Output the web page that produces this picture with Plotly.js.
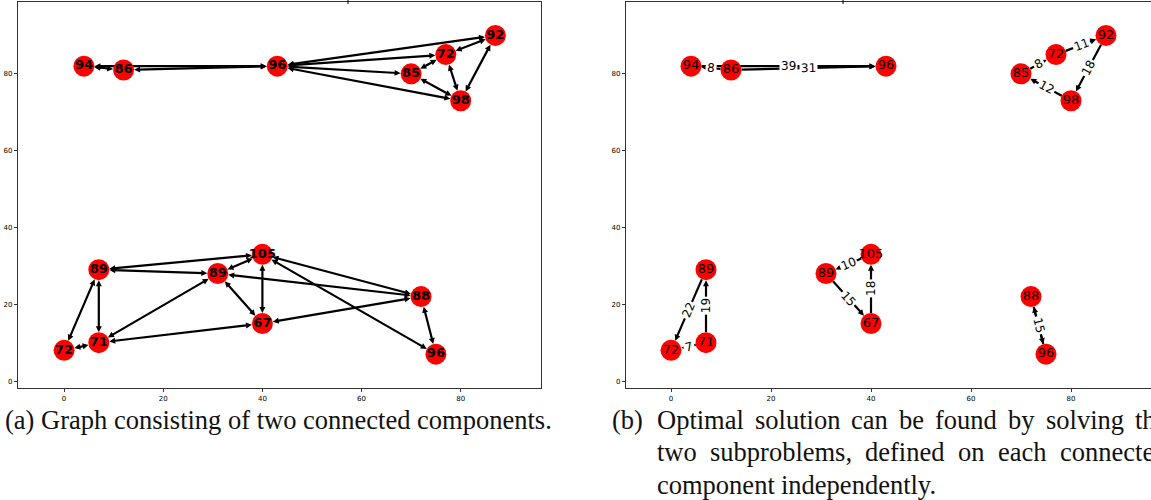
<!DOCTYPE html>
<html>
<head>
<meta charset="utf-8">
<script src="https://cdn.plot.ly/plotly-3.0.1.min.js"></script>
<style>
  html, body { margin: 0; padding: 0; background: #fff; }
  #chart { width: 1151px; height: 500px; }
</style>
</head>
<body>
<div id="chart"></div>
<script>
// ---- graph data ----------------------------------------------------------
// node ids, their printed labels and their positions
const nodeIds    = ['u94', 'u86', 'u96', 'u85', 'u72', 'u92', 'u98',
                    'l89a', 'l72', 'l71', 'l89b', 'l105', 'l67', 'l88', 'l96'];
const nodeLabels = ['94', '86', '96', '85', '72', '92', '98',
                    '89', '72', '71', '89', '105', '67', '88', '96'];
const nodeX = [4, 12, 43, 70, 77, 87, 80, 7, 0, 7, 31, 40, 40, 72, 75];
const nodeY = [82, 81, 82, 80, 85, 90, 73, 29, 8, 10, 28, 33, 15, 22, 7];

// full graph: every connection runs both ways
const fullFrom = ['u94', 'u94', 'u86', 'u96', 'u96', 'u96', 'u96', 'u72', 'u72', 'u72', 'u92', 'u85',
                  'l89a', 'l89a', 'l89a', 'l89a', 'l72', 'l71', 'l71', 'l89b', 'l89b', 'l89b',
                  'l105', 'l105', 'l105', 'l88', 'l88'];
const fullTo   = ['u86', 'u96', 'u96', 'u92', 'u72', 'u85', 'u98', 'u92', 'u85', 'u98', 'u98', 'u98',
                  'l105', 'l89b', 'l71', 'l72', 'l71', 'l89b', 'l67', 'l105', 'l67', 'l88',
                  'l67', 'l88', 'l96', 'l67', 'l96'];

// optimal solution: directed edges with their weights
const solFrom   = ['u86', 'u94', 'u86', 'u72', 'u92', 'u98', 'u85',
                   'l89a', 'l71', 'l71', 'l105', 'l89b', 'l67', 'l88', 'l96'];
const solTo     = ['u94', 'u96', 'u96', 'u92', 'u98', 'u85', 'u72',
                   'l72', 'l89a', 'l72', 'l89b', 'l67', 'l105', 'l96', 'l88'];
const solWeight = [8, 39, 31, 11, 18, 12, 8, 22, 19, 7, 10, 15, 18, 15, 15];

const xTicks = [0, 20, 40, 60, 80];
const yTicks = [0, 20, 40, 60, 80];

const captionA = '(a) Graph consisting of two connected components.';
const captionBTag = '(b)';
const captionBLines = ['Optimal solution can be found by solving the',
                       'two subproblems, defined on each connected',
                       'component independently.'];

// ---- layout constants ----------------------------------------------------
const W = 1151, H = 500;
const boxL = { x0: 18, x1: 541 };
const boxR = { x0: 626, x1: 1151 };
const boxY = { top: 2, bottom: 388 };
const xRangeL = [-9.3, 96.2];
const xRangeR = [-9, 96];
const yRange = [-1.8, 98.7];

const NODE_R = 10.5;     // node radius in px
const HEAD = 6;          // arrowhead size in px

const idx = id => nodeIds.indexOf(id);

function scales(box, xr) {
  return {
    sx: (box.x1 - box.x0) / (xr[1] - xr[0]),
    sy: (boxY.bottom - boxY.top) / (yRange[1] - yRange[0])
  };
}

// line segments and arrowheads, trimmed to the node circles
function buildEdges(from, to, twoWay, sc) {
  const lx = [], ly = [], hx = [], hy = [], ha = [];
  for (let i = 0; i < from.length; i++) {
    const u = idx(from[i]), v = idx(to[i]);
    const xu = nodeX[u], yu = nodeY[u], xv = nodeX[v], yv = nodeY[v];
    const px = (xv - xu) * sc.sx, py = -(yv - yu) * sc.sy;
    const len = Math.hypot(px, py);
    const ux = px / len, uy = py / len;
    const step = (x, y, d) => [x + d * ux / sc.sx, y - d * uy / sc.sy];
    const s = step(xu, yu, twoWay ? NODE_R + HEAD * 0.6 : NODE_R);
    const e = step(xv, yv, -(NODE_R + HEAD * 0.6));
    lx.push(s[0], e[0], null); ly.push(s[1], e[1], null);
    const tip = step(xv, yv, -NODE_R);
    hx.push(tip[0]); hy.push(tip[1]);
    ha.push(Math.atan2(ux, -uy) * 180 / Math.PI);
    if (twoWay) {
      const tip2 = step(xu, yu, NODE_R);
      hx.push(tip2[0]); hy.push(tip2[1]);
      ha.push(Math.atan2(-ux, uy) * 180 / Math.PI);
    }
  }
  return { lx, ly, hx, hy, ha };
}

function edgeTraces(g, xa, ya) {
  return [
    { type: 'scatter', mode: 'lines', x: g.lx, y: g.ly, xaxis: xa, yaxis: ya,
      line: { color: '#000', width: 2.2 }, hoverinfo: 'skip', cliponaxis: false },
    { type: 'scatter', mode: 'markers', x: g.hx, y: g.hy, xaxis: xa, yaxis: ya,
      marker: { symbol: 'arrow-up', size: HEAD, color: '#000', angle: g.ha,
                line: { width: 0 } },
      hoverinfo: 'skip', cliponaxis: false }
  ];
}

function nodeTrace(xa, ya, bold) {
  return {
    type: 'scatter', mode: 'markers+text', x: nodeX, y: nodeY, xaxis: xa, yaxis: ya,
    text: nodeLabels, textposition: 'middle center',
    textfont: { family: 'DejaVu Sans', size: 13, color: '#000', weight: bold ? 'bold' : 'normal' },
    marker: { size: 2 * NODE_R, color: '#ff0000', line: { width: 0 } },
    hoverinfo: 'skip', cliponaxis: false
  };
}

const scL = scales(boxL, xRangeL);
const scR = scales(boxR, xRangeR);

const gFull = buildEdges(fullFrom, fullTo, true, scL);
const gSol = buildEdges(solFrom, solTo, false, scR);

const traces = [
  ...edgeTraces(gFull, 'x', 'y'),
  nodeTrace('x', 'y', true),
  ...edgeTraces(gSol, 'x2', 'y2'),
  nodeTrace('x2', 'y2', false)
];

// weight labels sitting on the solution edges
const annotations = [];
solWeight.forEach((w, i) => {
  const u = idx(solFrom[i]), v = idx(solTo[i]);
  const px = (nodeX[v] - nodeX[u]) * scR.sx, py = -(nodeY[v] - nodeY[u]) * scR.sy;
  let a = Math.atan2(py, px) * 180 / Math.PI;
  if (a > 90) a -= 180;
  if (a < -90) a += 180;
  annotations.push({
    xref: 'x2', yref: 'y2',
    x: (nodeX[u] + nodeX[v]) / 2, y: (nodeY[u] + nodeY[v]) / 2,
    text: String(w), showarrow: false, textangle: a,
    bgcolor: '#fff', borderpad: 1,
    font: { family: 'DejaVu Sans', size: 12, color: '#000' }
  });
});

// captions
const capFont = { family: 'Liberation Serif', size: 26.5, color: '#111' };
const capY = [420, 452, 485];
function paperX(px) { return px / W; }
function paperY(py) { return 1 - py / H; }
function capNote(text, px, py) {
  return { xref: 'paper', yref: 'paper', x: paperX(px), y: paperY(py),
           xanchor: 'left', yanchor: 'middle', showarrow: false, text: text,
           font: capFont, borderpad: 0 };
}
annotations.push(capNote(captionA, 4, capY[0]));
annotations.push(capNote(captionBTag, 611, capY[0]));

// justified lines of caption (b)
const cv = document.createElement('canvas').getContext('2d');
cv.font = capFont.size + 'px "' + capFont.family + '"';
const lineStart = 656, lineEnd = 1166;
captionBLines.forEach((line, li) => {
  const words = line.split(' ');
  const widths = words.map(wd => cv.measureText(wd).width);
  const total = widths.reduce((p, c) => p + c, 0);
  const last = li === captionBLines.length - 1;
  const gap = last ? cv.measureText(' ').width : (lineEnd - lineStart - total) / (words.length - 1);
  let x = lineStart;
  words.forEach((wd, k) => {
    annotations.push(capNote(wd, x, capY[li]));
    x += widths[k] + gap;
  });
});

const axisCommon = {
  showgrid: false, zeroline: false, showline: true, mirror: true,
  linecolor: '#333', linewidth: 1.2,
  ticks: 'outside', ticklen: 3, tickwidth: 1, tickcolor: '#333',
  tickfont: { family: 'DejaVu Sans', size: 7, color: '#000' },
  fixedrange: true
};
const yDomain = [1 - boxY.bottom / H, 1 - boxY.top / H];

const layout = {
  width: W, height: H,
  margin: { l: 0, r: 0, t: 0, b: 0 },
  paper_bgcolor: '#fff', plot_bgcolor: '#fff',
  showlegend: false, hovermode: false,
  xaxis: Object.assign({}, axisCommon, { domain: [boxL.x0 / W, boxL.x1 / W], range: xRangeL, anchor: 'y', tickvals: xTicks }),
  yaxis: Object.assign({}, axisCommon, { domain: yDomain, range: yRange, anchor: 'x', tickvals: yTicks }),
  xaxis2: Object.assign({}, axisCommon, { domain: [boxR.x0 / W, 1], range: xRangeR, anchor: 'y2', tickvals: xTicks }),
  yaxis2: Object.assign({}, axisCommon, { domain: yDomain, range: yRange, anchor: 'x2', tickvals: yTicks }),
  annotations: annotations,
  shapes: [
    { type: 'line', xref: 'paper', yref: 'paper', x0: 348 / W, x1: 348 / W, y0: 1, y1: 1 - 4 / H,
      line: { color: '#000', width: 1 } },
    { type: 'line', xref: 'paper', yref: 'paper', x0: 843 / W, x1: 843 / W, y0: 1, y1: 1 - 4 / H,
      line: { color: '#000', width: 1 } }
  ]
};

Plotly.newPlot('chart', traces, layout, { displayModeBar: false, staticPlot: true });
</script>
</body>
</html>
